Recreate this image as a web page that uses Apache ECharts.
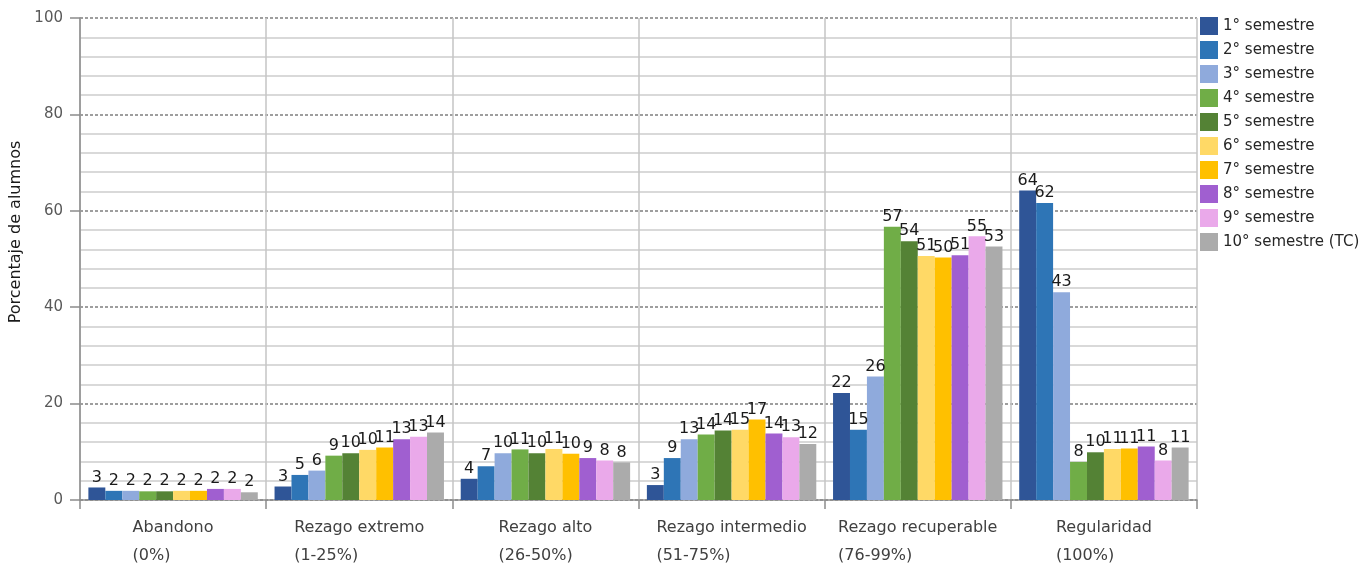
<!DOCTYPE html>
<html>
<head>
<meta charset="utf-8">
<script src="https://cdn.jsdelivr.net/npm/echarts@6/dist/echarts.min.js"></script>
<style>html,body{margin:0;padding:0;background:#fff}#c{width:1372px;height:566px}</style>
</head>
<body>
<div id="c"></div>
<script>
const categories = ["Abandono\n(0%)", "Rezago extremo\n(1-25%)", "Rezago alto\n(26-50%)", "Rezago intermedio\n(51-75%)", "Rezago recuperable\n(76-99%)", "Regularidad\n(100%)"];
const seriesNames = ["1° semestre", "2° semestre", "3° semestre", "4° semestre", "5° semestre", "6° semestre", "7° semestre", "8° semestre", "9° semestre", "10° semestre (TC)"];
const sem1 = [2.6, 2.8, 4.4, 3.1, 22.2, 64.2];
const sem2 = [1.9, 5.2, 7.0, 8.7, 14.6, 61.6];
const sem3 = [1.9, 6.1, 9.7, 12.6, 25.6, 43.1];
const sem4 = [1.8, 9.2, 10.5, 13.6, 56.7, 7.9];
const sem5 = [1.8, 9.7, 9.7, 14.4, 53.7, 9.9];
const sem6 = [1.9, 10.4, 10.6, 14.6, 50.6, 10.6];
const sem7 = [1.9, 10.9, 9.6, 16.7, 50.3, 10.7];
const sem8 = [2.3, 12.6, 8.7, 13.8, 50.8, 11.1];
const sem9 = [2.3, 13.1, 8.2, 13.0, 54.7, 8.2];
const sem10 = [1.6, 14.0, 7.8, 11.6, 52.6, 10.9];
const yTicks = [0, 20, 40, 60, 80, 100];
const colors = ["#2F5597", "#2E75B6", "#8FAADC", "#70AD47", "#548235", "#FFD966", "#FFC000", "#A05FD0", "#EAA9EA", "#ABABAB"];

const allSeries = [sem1, sem2, sem3, sem4, sem5, sem6, sem7, sem8, sem9, sem10];
const FONT = "DejaVu Sans";

const chart = echarts.init(document.getElementById('c'), null, {renderer: 'canvas'});
chart.setOption({
  animation: false,
  backgroundColor: '#fff',
  color: colors,
  grid: {left: 80, right: 175, top: 18, bottom: 66, containLabel: false, outerBoundsMode: 'none'},
  legend: {
    orient: 'vertical', left: 1195, top: 12,
    itemWidth: 18, itemHeight: 18, itemGap: 6,
    icon: 'rect',
    textStyle: {fontFamily: FONT, fontSize: 15, color: '#262626'},
    data: seriesNames
  },
  xAxis: {
    type: 'category',
    data: categories,
    boundaryGap: true,
    axisLine: {lineStyle: {color: '#8c8c8c', width: 1.5}},
    axisTick: {show: true, length: 9, lineStyle: {color: '#8c8c8c', width: 1.5}},
    splitLine: {show: true, lineStyle: {color: '#c4c4c4', width: 1.5}},
    axisLabel: {
      interval: 0, margin: 14,
      formatter: function (v) { return v.split('\n').map(function (s) { return '{a|' + s + '}'; }).join('\n'); },
      rich: {a: {align: 'left', fontFamily: FONT, fontSize: 16, lineHeight: 28, color: '#404040'}}
    }
  },
  yAxis: {
    type: 'value', min: yTicks[0], max: yTicks[yTicks.length - 1], interval: 20,
    name: 'Porcentaje de alumnos', nameLocation: 'middle', nameGap: 56, nameRotate: 90,
    nameTextStyle: {fontFamily: FONT, fontSize: 16, color: '#1a1a1a', padding: [0, 0, 0, 54]},
    axisLine: {show: true, lineStyle: {color: '#8c8c8c', width: 1.5}},
    axisTick: {show: true, length: 10, lineStyle: {color: '#8c8c8c', width: 1.5}},
    axisLabel: {fontFamily: FONT, fontSize: 15, color: '#595959', margin: 17},
    splitLine: {show: true, lineStyle: {color: '#7f7f7f', width: 1.5, type: [3, 2]}},
    minorTick: {show: false, splitNumber: 5},
    minorSplitLine: {show: true, lineStyle: {color: '#d9d9d9', width: 2}}
  },
  series: allSeries.map(function (d, i) {
    return {
      name: seriesNames[i], type: 'bar', data: d,
      barGap: '0%', barCategoryGap: '9%',
      label: {
        show: true, position: 'top', distance: 2,
        fontFamily: FONT, fontSize: 16, color: '#1a1a1a',
        formatter: function (p) { return Math.round(p.value); }
      }
    };
  })
});
</script>
</body>
</html>
